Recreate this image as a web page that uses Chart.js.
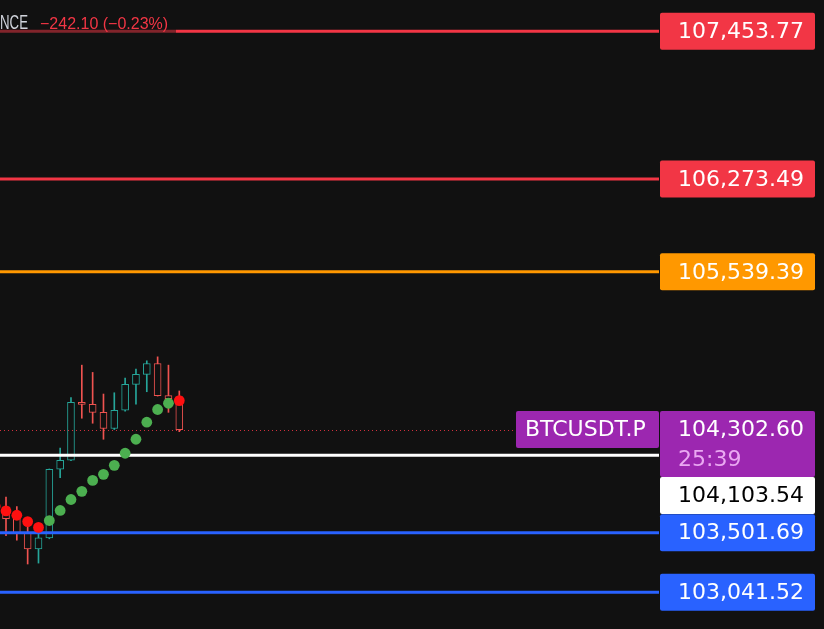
<!DOCTYPE html>
<html>
<head>
<meta charset="utf-8">
<script src="https://cdn.jsdelivr.net/npm/chart.js@4.4.1/dist/chart.umd.min.js"></script>
<style>
  html, body { margin: 0; padding: 0; background: #111111; overflow: hidden; }
  #wrap { width: 824px; height: 629px; }
</style>
</head>
<body>
<div id="wrap"><canvas id="c" width="824" height="629"></canvas></div>
<script>
// 30-minute candles, oldest first
const opens  = [103785, 103702, 103618, 103504, 103377, 103462, 103994, 104064, 104516, 104500, 104438, 104311, 104453, 104656, 104734, 104819, 104567, 104559];
const highs  = [103840, 103778, 103705, 103598, 103572, 103996, 104159, 104553, 104806, 104749, 104580, 104590, 104705, 104775, 104840, 104871, 104806, 104604];
const lows   = [103690, 103479, 103445, 103260, 103267, 103455, 103928, 104060, 104391, 104352, 104227, 104303, 104447, 104500, 104598, 104564, 104437, 104286];
const closes = [103746, 103611, 103500, 103377, 103462, 103994, 104064, 104515, 104498, 104437, 104311, 104453, 104656, 104734, 104819, 104567, 104544.70, 104302.60];

// trailing trend dots and their direction
const trendDots = [103707, 103670, 103637, 103588, 103543, 103596, 103674, 103759, 103822, 103907, 103954, 104024, 104118, 104227, 104360, 104459, 104508, 104529];
const trendSide = ['down','down','down','down','down','up','up','up','up','up','up','up','up','up','up','up','up','down'];

// horizontal price levels
const resistanceLevels = [107453.77, 106273.49, 105539.39];
const pivotLevels = [104103.54];
const supportLevels = [103501.69, 103041.52];

const symbol = 'BTCUSDT.P';
const exchange = 'BINANCE';
const lastPrice = 104302.60;
const barCountdown = '25:39';
const dayChange = '\u2212242.10 (\u22120.23%)';

const BG = '#111111';
const UP = '#26a69a';
const DOWN = '#ef5350';
const FONT = '"DejaVu Sans", sans-serif';
const SANS = '"Liberation Sans", Arial, sans-serif';

const idx = opens.map((_, i) => i);
const isUp = idx.map(i => closes[i] >= opens[i]);
const fmt = v => v.toLocaleString('en-US', { minimumFractionDigits: 2, maximumFractionDigits: 2 });

const levelStyles = [
  ...resistanceLevels.map((v, i) => ({ value: v, color: i < 2 ? '#f23645' : '#ff9800', text: '#ffffff' })),
  ...pivotLevels.map(v => ({ value: v, color: '#ffffff', text: '#000000' })),
  ...supportLevels.map(v => ({ value: v, color: '#2962ff', text: '#ffffff' }))
];

function roundRect(ctx, x, y, w, h, r) {
  ctx.beginPath();
  ctx.moveTo(x + r, y);
  ctx.lineTo(x + w - r, y);
  ctx.quadraticCurveTo(x + w, y, x + w, y + r);
  ctx.lineTo(x + w, y + h - r);
  ctx.quadraticCurveTo(x + w, y + h, x + w - r, y + h);
  ctx.lineTo(x + r, y + h);
  ctx.quadraticCurveTo(x, y + h, x, y + h - r);
  ctx.lineTo(x, y + r);
  ctx.quadraticCurveTo(x, y, x + r, y);
  ctx.closePath();
}

const levelsPlugin = {
  id: 'levels',
  beforeDatasetDraw(chart, args) {
    if (args.index !== 0) return;
    const { ctx, chartArea: a } = chart;
    const y = chart.scales.y;
    ctx.save();
    // last price dotted line
    const py = Math.round(y.getPixelForValue(lastPrice)) + 0.5;
    ctx.strokeStyle = 'rgba(242,54,69,0.85)';
    ctx.lineWidth = 1;
    ctx.setLineDash([1, 3]);
    ctx.beginPath();
    ctx.moveTo(a.left, py);
    ctx.lineTo(516, py);
    ctx.stroke();
    ctx.setLineDash([]);
    // level lines
    ctx.lineWidth = 3;
    levelStyles.forEach(l => {
      const ly = y.getPixelForValue(l.value);
      ctx.strokeStyle = l.color;
      ctx.beginPath();
      ctx.moveTo(a.left, ly);
      ctx.lineTo(a.right - 1, ly);
      ctx.stroke();
    });
    ctx.restore();
  },
  afterDraw(chart) {
    const { ctx, chartArea: a } = chart;
    const y = chart.scales.y;
    ctx.save();
    // legend strip
    ctx.fillStyle = 'rgba(17,17,17,0.5)';
    ctx.fillRect(0, 4, 176, 34);
    ctx.textBaseline = 'alphabetic';
    ctx.save();
    ctx.scale(0.68, 1);
    ctx.font = '19.5px ' + SANS;
    ctx.fillStyle = '#d1d4dc';
    ctx.textAlign = 'right';
    ctx.fillText(exchange, 28 / 0.68, 28.5);
    ctx.restore();
    ctx.textAlign = 'left';
    ctx.font = '16px ' + SANS;
    ctx.fillStyle = '#f23645';
    ctx.fillText(dayChange, 40, 28.5);

    // price scale labels
    const boxX = a.right, boxW = 155, h = 37;
    const labels = [];
    labels.push({ center: y.getPixelForValue(lastPrice), height: h + 29, color: '#9c27b0', text: '#ffffff', value: lastPrice, sub: barCountdown });
    levelStyles.forEach(l => labels.push({ center: y.getPixelForValue(l.value), height: h, color: l.color, text: l.text, value: l.value }));
    labels.forEach(l => { l.top = l.center - h / 2; });
    labels.sort((p, q) => p.top - q.top);
    for (let i = 1; i < labels.length; i++) {
      const prev = labels[i - 1];
      if (labels[i].top < prev.top + prev.height) labels[i].top = prev.top + prev.height;
    }
    ctx.font = '22px ' + FONT;
    ctx.textBaseline = 'middle';
    labels.forEach(l => {
      ctx.fillStyle = l.color;
      roundRect(ctx, boxX, l.top, boxW, l.height, 2);
      ctx.fill();
      ctx.fillStyle = l.text;
      ctx.fillText(fmt(l.value), boxX + 18, l.top + h / 2 + 1);
      if (l.sub) {
        ctx.fillStyle = '#eaa9f2';
        ctx.fillText(l.sub, boxX + 18, l.top + h + 12);
      }
    });

    // symbol tag
    const py = y.getPixelForValue(lastPrice);
    ctx.fillStyle = '#9c27b0';
    roundRect(ctx, 516, py - h / 2, 143, h, 2);
    ctx.fill();
    ctx.fillStyle = '#ffffff';
    ctx.fillText(symbol, 525, py + 1);
    ctx.restore();
  }
};

new Chart(document.getElementById('c'), {
  type: 'bar',
  data: {
    datasets: [
      {
        type: 'line',
        label: 'trend',
        data: idx.map(i => ({ x: i, y: trendDots[i] })),
        showLine: false,
        pointRadius: 5.4,
        pointBorderWidth: 0,
        pointBackgroundColor: trendSide.map(s => s === 'up' ? '#4caf50' : '#ff1010'),
        pointBorderColor: 'rgba(0,0,0,0)'
      },
      {
        label: 'body',
        data: idx.map(i => ({ x: i, y: [opens[i], closes[i]] })),
        grouped: false,
        barThickness: 7,
        backgroundColor: BG,
        borderColor: isUp.map(u => u ? UP : DOWN),
        borderWidth: 1,
        borderSkipped: false
      },
      {
        label: 'wick',
        data: idx.map(i => ({ x: i, y: [lows[i], highs[i]] })),
        grouped: false,
        barThickness: 1,
        backgroundColor: isUp.map(u => u ? UP : DOWN),
        borderWidth: 0
      }
    ]
  },
  options: {
    responsive: false,
    animation: false,
    devicePixelRatio: 1,
    layout: { autoPadding: false, padding: { left: 0, right: 164, top: 0, bottom: 0 } },
    plugins: { legend: { display: false }, tooltip: { enabled: false } },
    scales: {
      x: { type: 'linear', min: 0.446, max: 61.386, offset: false, display: false },
      y: { type: 'logarithmic', min: 102759.6, max: 107705.4, display: false }
    }
  },
  plugins: [levelsPlugin]
});
</script>
</body>
</html>
